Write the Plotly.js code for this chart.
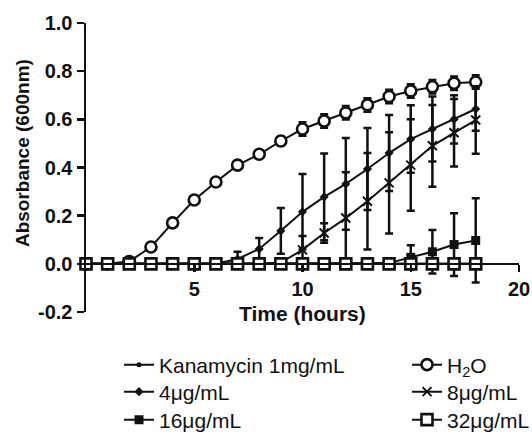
<!DOCTYPE html>
<html>
<head>
<meta charset="utf-8">
<script src="https://cdn.plot.ly/plotly-3.0.1.min.js"></script>
<style>
  html, body { margin: 0; padding: 0; background: #fff; }
  #chart { width: 532px; height: 439px; }
</style>
</head>
<body>
<div id="chart"></div>
<script>
// Sampling times (hours)
const hours = [0,1,2,3,4,5,6,7,8,9,10,11,12,13,14,15,16,17,18];

// Series names as shown in the legend
const seriesNames = ['Kanamycin 1mg/mL', 'H<sub>2</sub>O', '4\u03bcg/mL', '8\u03bcg/mL', '16\u03bcg/mL', '32\u03bcg/mL'];

// Mean absorbance at 600 nm
const kanamycin = [0,0,0,0,0,0,0,0,0,0,0,0,0,0,0,0,0,0,0];
const water     = [0,0,0.01,0.07,0.17,0.265,0.34,0.41,0.455,0.51,0.56,0.593,0.627,0.66,0.695,0.718,0.735,0.75,0.755];
const conc4     = [0,0,0,0,0,0,0,0.02,0.062,0.137,0.216,0.278,0.332,0.394,0.46,0.518,0.56,0.60,0.643];
const conc8     = [0,0,0,0,0,0,0,0,0,0.005,0.058,0.128,0.19,0.26,0.336,0.41,0.49,0.544,0.597];
const conc16    = [0,0,0,0,0,0,0,0,0,0,0,0,0,0,0.003,0.027,0.05,0.08,0.097];
const conc32    = [0,0,0,0,0,0,0,0,0,0,0,0,0,0,0,0,0,0,0];

// Standard deviations
const kanamycinSd = [0,0,0,0,0,0,0,0,0,0,0,0,0,0,0,0,0,0,0];
const waterSd     = [0,0,0,0.005,0.01,0.01,0.01,0.015,0.015,0.018,0.028,0.028,0.028,0.028,0.028,0.028,0.028,0.028,0.028];
const conc4Sd     = [0,0,0,0,0,0,0,0.03,0.045,0.095,0.157,0.18,0.19,0.17,0.158,0.14,0.135,0.1,0.09];
const conc8Sd     = [0,0,0,0,0,0,0,0,0,0.01,0.058,0.04,0.19,0.2,0.21,0.19,0.17,0.14,0.14];
const conc16Sd    = [0,0,0,0,0,0,0,0,0,0,0,0,0,0,0.005,0.05,0.09,0.13,0.175];
const conc32Sd    = [0,0,0,0,0,0,0,0,0,0,0,0,0,0,0,0,0.01,0.01,0.01];

// Axis ticks
const xTickVals = [5, 10, 15, 20];
const xTickText = ['5', '10', '15', '20'];
const yTickVals = [-0.2, 0, 0.2, 0.4, 0.6, 0.8, 1.0];
const yTickText = ['-0.2', '0.0', '0.2', '0.4', '0.6', '0.8', '1.0'];

const INK = '#111111';
const FONT = 'Arial, "Liberation Sans", Helvetica, sans-serif';

function series(name, y, sd, marker, legendId) {
  return {
    type: 'scatter',
    mode: 'lines+markers',
    name: name,
    legend: legendId,
    x: hours,
    y: y,
    cliponaxis: false,
    line: { color: INK, width: 2 },
    marker: Object.assign({ color: INK }, marker),
    error_y: { type: 'data', array: sd, visible: true, color: INK, thickness: 2.5, width: 4 }
  };
}

// Each legend entry gets its own legend box: two columns of three rows
const traces = [
  series(seriesNames[0], kanamycin, kanamycinSd, { symbol: 'circle', size: 5 }, 'legend'),
  series(seriesNames[1], water, waterSd, { symbol: 'circle', size: 11, color: '#ffffff', line: { color: INK, width: 2.6 } }, 'legend2'),
  series(seriesNames[2], conc4, conc4Sd, { symbol: 'diamond', size: 7 }, 'legend3'),
  series(seriesNames[3], conc8, conc8Sd, { symbol: 'x-thin-open', size: 9, line: { color: INK, width: 2 } }, 'legend4'),
  series(seriesNames[4], conc16, conc16Sd, { symbol: 'square', size: 9 }, 'legend5'),
  series(seriesNames[5], conc32, conc32Sd, { symbol: 'square', size: 11, color: '#ffffff', line: { color: INK, width: 2.6 } }, 'legend6')
];

function legendBox(px, py) {
  return {
    xref: 'container', yref: 'container',
    x: px / 532, xanchor: 'left',
    y: 1 - py / 439, yanchor: 'middle',
    font: { family: FONT, size: 21, color: INK },
    bgcolor: 'rgba(0,0,0,0)',
    borderwidth: 0,
    itemclick: false
  };
}

const layout = {
  width: 532,
  height: 439,
  margin: { l: 86, r: 13, t: 23, b: 127, autoexpand: false },
  paper_bgcolor: '#ffffff',
  plot_bgcolor: '#ffffff',
  font: { family: FONT, color: INK },
  showlegend: true,
  xaxis: {
    range: [0, 20],
    anchor: 'free',
    position: 1 / 6,
    showline: true,
    linecolor: INK,
    linewidth: 2.5,
    ticks: 'outside',
    ticklen: 7,
    tickwidth: 2.5,
    tickcolor: INK,
    tickvals: xTickVals,
    ticktext: xTickText,
    tickfont: { family: FONT, size: 20, weight: 700, color: INK },
    showgrid: false,
    zeroline: false,
    automargin: false
  },
  yaxis: {
    range: [-0.2, 1.0],
    showline: true,
    linecolor: INK,
    linewidth: 2.5,
    ticks: 'outside',
    ticklen: 7,
    tickwidth: 2.5,
    tickcolor: INK,
    tickvals: yTickVals,
    ticktext: yTickText,
    tickfont: { family: FONT, size: 20, weight: 700, color: INK },
    showgrid: false,
    zeroline: false,
    automargin: false
  },
  annotations: [
    {
      text: 'Time (hours)',
      xref: 'paper', yref: 'paper',
      x: 0.5, y: 0, yshift: -1,
      xanchor: 'center', yanchor: 'middle',
      showarrow: false,
      font: { family: FONT, size: 21, weight: 700, color: INK }
    },
    {
      text: 'Absorbance (600nm)',
      xref: 'paper', yref: 'paper',
      x: 0, xshift: -64, y: 0.55,
      xanchor: 'center', yanchor: 'middle',
      textangle: -90,
      showarrow: false,
      font: { family: FONT, size: 19, weight: 700, color: INK }
    }
  ],
  legend:  legendBox(119, 365),
  legend2: legendBox(407, 365),
  legend3: legendBox(119, 392),
  legend4: legendBox(407, 392),
  legend5: legendBox(119, 420),
  legend6: legendBox(407, 420)
};

Plotly.newPlot('chart', traces, layout, { displayModeBar: false, staticPlot: true });
</script>
</body>
</html>
